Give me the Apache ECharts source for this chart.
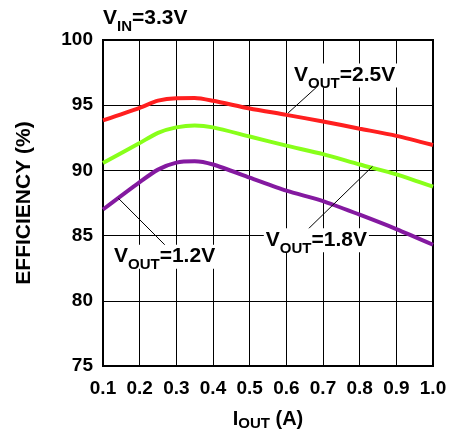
<!DOCTYPE html>
<html><head><meta charset="utf-8">
<script src="https://cdn.jsdelivr.net/npm/echarts@6/dist/echarts.min.js"></script>
<style>html,body{margin:0;padding:0;background:#fff}#c{width:454px;height:436px}</style>
</head><body><div id="c"></div>
<script>
// ---- data ----
const iout   = [0.1, 0.2, 0.25, 0.3, 0.35, 0.4, 0.5, 0.6, 0.7, 0.8, 0.9, 1.0];
const eff25  = [93.83, 94.8, 95.35, 95.54, 95.55, 95.34, 94.75, 94.26, 93.75, 93.2, 92.65, 91.95];
const eff18  = [90.56, 92.1, 92.88, 93.3, 93.45, 93.3, 92.6, 91.9, 91.25, 90.45, 89.7, 88.75];
const eff12  = [87.0, 89.1, 90.06, 90.6, 90.7, 90.45, 89.45, 88.45, 87.65, 86.6, 85.5, 84.3];
const xTickLabels = ['0.1','0.2','0.3','0.4','0.5','0.6','0.7','0.8','0.9','1.0'];
const yTickLabels = ['75','80','85','90','95','100'];
const seriesNames = ['2.5V', '1.8V', '1.2V'];

// ---- annotation layout (data coords) ----
const notes = [
  {name: seriesNames[0], at: [0.621, 96.75], from: [0.686, 96.47], to: [0.605, 94.41]},
  {name: seriesNames[1], at: [0.544, 84.1], from: [0.651, 85.27], to: [0.835, 90.31]},
  {name: seriesNames[2], at: [0.13, 82.85], from: [0.281, 83.94], to: [0.142, 87.86]}
];

const FONT = "'Liberation Sans', Arial, sans-serif";
const colors = ['#ff1f1f', '#88ff1a', '#8419a0'];

const chart = echarts.init(document.getElementById('c'));
const mk = (ys) => iout.map((x, i) => [x, ys[i]]);

chart.setOption({
  animation: false,
  backgroundColor: '#fff',
  grid: {left: 103, right: 21, top: 40, bottom: 65, show: true, borderColor: '#000', borderWidth: 2, backgroundColor: 'transparent'},
  xAxis: {
    type: 'value', min: 0.1, max: 1.0, interval: 0.1,
    axisLine: {show: false}, axisTick: {show: false},
    splitLine: {show: true, lineStyle: {color: '#000', width: 1}},
    axisLabel: {margin: 13, color: '#000', fontFamily: FONT, fontWeight: 'bold', fontSize: 19,
      formatter: (v) => { const i = Math.round(v * 10) - 1; return xTickLabels[i] || ''; }},
    name: 'I{s|OUT} (A)', nameLocation: 'middle', nameGap: 41,
    nameTextStyle: {color: '#000', fontFamily: FONT, fontWeight: 'bold', fontSize: 20,
      rich: {s: {fontFamily: FONT, fontWeight: 'bold', fontSize: 15, padding: [9, 0, 0, 0], color: '#000'}}}
  },
  yAxis: {
    type: 'value', min: 75, max: 100, interval: 5,
    axisLine: {show: false}, axisTick: {show: false},
    splitLine: {show: true, lineStyle: {color: '#000', width: 1}},
    axisLabel: {margin: 10, color: '#000', fontFamily: FONT, fontWeight: 'bold', fontSize: 19,
      formatter: (v) => yTickLabels[Math.round((v - 75) / 5)] || ''},
    name: 'EFFICIENCY (%)', nameLocation: 'middle', nameGap: 68, nameRotate: 90,
    nameTextStyle: {color: '#000', fontFamily: FONT, fontWeight: 'bold', fontSize: 21}
  },
  series: [eff25, eff18, eff12].map((d, i) => ({
    name: seriesNames[i], type: 'line', data: mk(d), showSymbol: false, smooth: 0.25,
    lineStyle: {color: colors[i], width: 4}, itemStyle: {color: colors[i]}, z: 3
  }))
});

function richLabel(sub, rest, bold) {
  return {
    text: '{m|V}{s|' + sub + '}{m|' + rest + '}',
    rich: {
      m: {fontFamily: FONT, fontWeight: bold ? 'bold' : 'normal', fontSize: 21, lineHeight: 22, verticalAlign: 'top', fill: '#000'},
      s: {fontFamily: FONT, fontWeight: bold ? 'bold' : 'normal', fontSize: 15, lineHeight: 15, verticalAlign: 'top', padding: [12, 0, 0, 0], fill: '#000'}
    }
  };
}

const graphics = [];
notes.forEach((n) => {
  const a = chart.convertToPixel({gridIndex: 0}, n.from);
  const b = chart.convertToPixel({gridIndex: 0}, n.to);
  graphics.push({type: 'line', shape: {x1: a[0], y1: a[1], x2: b[0], y2: b[1]}, style: {stroke: '#000', lineWidth: 1}, z: 10});
});
notes.forEach((n) => {
  const p = chart.convertToPixel({gridIndex: 0}, n.at);
  const rl = richLabel('OUT', '=' + n.name, true);
  graphics.push({type: 'text', x: p[0] - 2, y: p[1] - 19, z: 11,
    style: Object.assign(rl, {backgroundColor: '#fff', padding: [1, 2, 1, 2], align: 'left', verticalAlign: 'top'})});
});
{
  const p = chart.convertToPixel({gridIndex: 0}, [0.1, 101.13]);
  const rl = richLabel('IN', '=3.3V', true);
  graphics.push({type: 'text', x: p[0], y: p[1] - 18, z: 11, style: Object.assign(rl, {align: 'left', verticalAlign: 'top'})});
}
chart.setOption({graphic: graphics});
</script>
</body></html>
